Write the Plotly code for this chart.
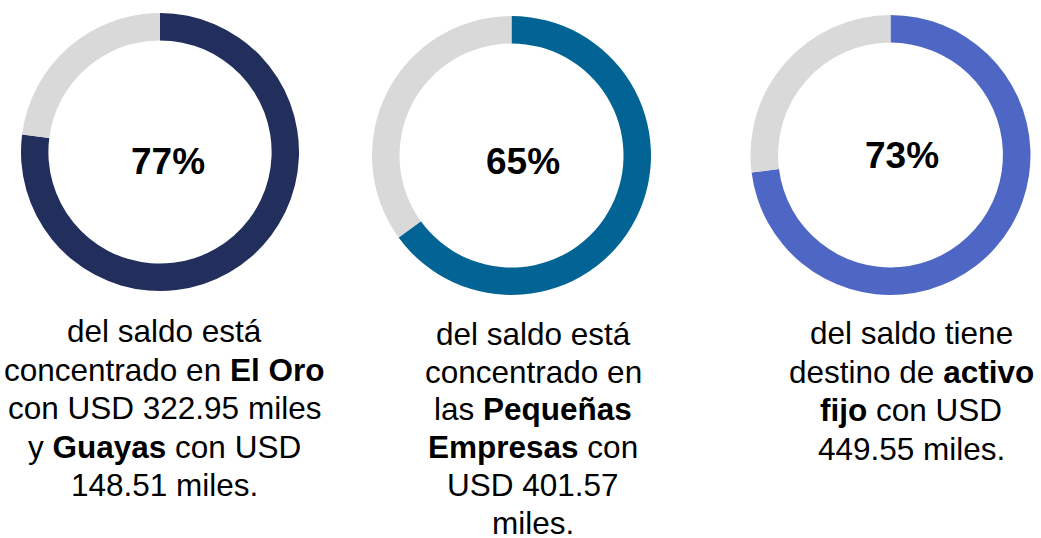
import plotly.graph_objects as go

W, H = 1041, 538

# Share of balance per indicator (percent) and the remainder
shares = [77, 65, 73]
ring_colors = ["#222E5C", "#026494", "#4F67C4"]
rest_color = "#D9D9D9"
pct_labels = ["77%", "65%", "73%"]

# Ring geometry in pixels: centre x, centre y (from top), outer radius
ring_cx = [160, 511.5, 890.5]
ring_cy = [152, 155.5, 155]
ring_r = [139, 139.5, 140]
hole = 0.803

# Percentage label centres (pixels)
pct_x = [167.5, 523, 902]
pct_y = [161.5, 161.5, 155]

# Caption lines under each ring
captions = [
    ["del saldo está",
     "concentrado en <b>El Oro</b>",
     "con USD 322.95 miles",
     "y <b>Guayas</b> con USD",
     "148.51 miles."],
    ["del saldo está",
     "concentrado en",
     "las <b>Pequeñas</b>",
     "<b>Empresas</b> con",
     "USD 401.57",
     "miles."],
    ["del saldo tiene",
     "destino de <b>activo</b>",
     "<b>fijo</b> con USD",
     "449.55 miles."],
]
caption_x = [164, 533, 911]
caption_first_mid = [331, 334, 333]
caption_step = [38.6, 37.7, 38.6]

FONT = "Liberation Sans, Arial, sans-serif"

fig = go.Figure()
annotations = []
for i, s in enumerate(shares):
    cx, cy, r = ring_cx[i], ring_cy[i], ring_r[i]
    fig.add_trace(go.Pie(
        values=[s, 100 - s],
        labels=["saldo", "resto"],
        sort=False,
        direction="clockwise",
        rotation=0,
        hole=hole,
        textinfo="none",
        hoverinfo="skip",
        showlegend=False,
        marker=dict(colors=[ring_colors[i], rest_color], line=dict(width=0)),
        domain=dict(x=[(cx - r) / W, (cx + r) / W],
                    y=[(H - cy - r) / H, (H - cy + r) / H]),
    ))
    annotations.append(dict(
        text=f"<b>{pct_labels[i]}</b>", x=pct_x[i] / W, y=1 - pct_y[i] / H,
        xref="paper", yref="paper", xanchor="center", yanchor="middle",
        showarrow=False, font=dict(family=FONT, size=37, color="#000000"),
    ))
    for k, line in enumerate(captions[i]):
        ym = caption_first_mid[i] + k * caption_step[i]
        annotations.append(dict(
            text=line, x=caption_x[i] / W, y=1 - ym / H,
            xref="paper", yref="paper", xanchor="center", yanchor="middle",
            showarrow=False, font=dict(family=FONT, size=31.5, color="#000000"),
        ))

fig.update_layout(
    width=W, height=H,
    margin=dict(l=0, r=0, t=0, b=0),
    paper_bgcolor="#FFFFFF",
    plot_bgcolor="#FFFFFF",
    annotations=annotations,
)

fig.write_html("out.html", config={"displayModeBar": False})
